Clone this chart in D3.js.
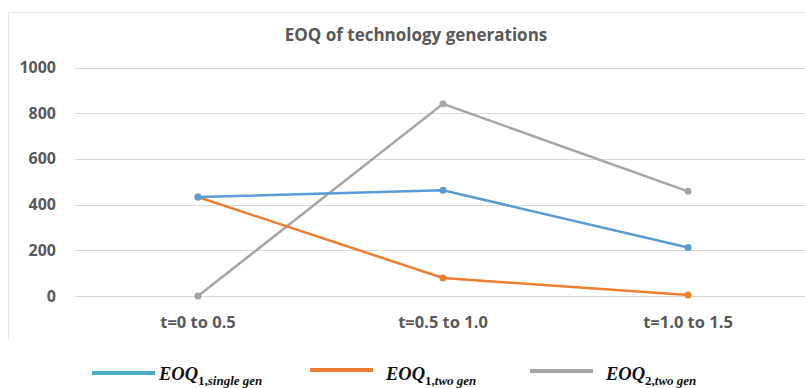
<!DOCTYPE html>
<html>
<head>
<meta charset="utf-8">
<script src="https://cdn.jsdelivr.net/npm/d3@7"></script>
<style>
  body { margin: 0; background: #fff; }
  svg { display: block; }
</style>
</head>
<body>
<div id="canvas"></div>
<script>
var categories = ["t=0 to 0.5", "t=0.5 to 1.0", "t=1.0 to 1.5"]
var singleGen1 = [433, 463, 212]
var twoGen1 = [433, 79, 4]
var twoGen2 = [0, 841, 458]
var yTicks = [0, 200, 400, 600, 800, 1000]

var width = 805
var height = 388

var series = [
    { values: singleGen1, color: "#5B9BD5", legend: "#4BACC6", n: "1", sub: "single gen" },
    { values: twoGen1, color: "#ED7D31", legend: "#ED7D31", n: "1", sub: "two gen" },
    { values: twoGen2, color: "#A5A5A5", legend: "#A5A5A5", n: "2", sub: "two gen" }
]

var svg = d3.select("#canvas")
    .append("svg")
    .attr("width", width)
    .attr("height", height)

// chart frame (cropped on the right)
svg.append("path")
    .attr("d", "M8.5,340 V12.5 H805")
    .attr("fill", "none")
    .attr("stroke", "#e6e6e6")

var xScale = d3.scalePoint().domain(categories).range([198, 688])
var yScale = d3.scaleLinear().domain([0, 1000]).range([296, 67.5])

// gridlines
svg.selectAll(".grid")
    .data(yTicks)
    .enter()
    .append("line")
    .attr("x1", 75)
    .attr("x2", width)
    .attr("y1", function (d) { return Math.round(yScale(d)) + 0.5 })
    .attr("y2", function (d) { return Math.round(yScale(d)) + 0.5 })
    .attr("stroke", "#dadada")
    .attr("stroke-width", 1)

var labelFont = "'Open Sans', sans-serif"

svg.selectAll(".ylab")
    .data(yTicks)
    .enter()
    .append("text")
    .attr("x", 56)
    .attr("y", function (d) { return yScale(d) + 5.5 })
    .attr("text-anchor", "end")
    .attr("font-family", labelFont)
    .attr("font-weight", "bold")
    .attr("font-size", 16)
    .attr("fill", "#595959")
    .text(function (d) { return d })

svg.selectAll(".xlab")
    .data(categories)
    .enter()
    .append("text")
    .attr("x", function (d) { return xScale(d) })
    .attr("y", 328)
    .attr("text-anchor", "middle")
    .attr("font-family", labelFont)
    .attr("font-weight", "bold")
    .attr("font-size", 16.5)
    .attr("fill", "#595959")
    .text(function (d) { return d })

svg.append("text")
    .attr("x", 416)
    .attr("y", 41)
    .attr("text-anchor", "middle")
    .attr("font-family", labelFont)
    .attr("font-weight", "bold")
    .attr("font-size", 17)
    .attr("fill", "#595959")
    .text("EOQ of technology generations")

var line = d3.line()
    .x(function (d, i) { return xScale(categories[i]) })
    .y(function (d) { return yScale(d) })

// gray first so blue/orange sit on top
series.slice().reverse().forEach(function (s) {
    svg.append("path")
        .datum(s.values)
        .attr("d", line)
        .attr("fill", "none")
        .attr("stroke", s.color)
        .attr("stroke-width", 2.5)

    svg.selectAll(null)
        .data(s.values)
        .enter()
        .append("circle")
        .attr("cx", function (d, i) { return xScale(categories[i]) })
        .attr("cy", function (d) { return yScale(d) })
        .attr("r", 3.5)
        .attr("fill", s.color)
})

// legend
var legendX = [92, 310, 530]
var legendY = [373, 370, 371]
var legend = svg.selectAll(".legend")
    .data(series)
    .enter()
    .append("g")
    .attr("transform", function (d, i) { return "translate(" + legendX[i] + ",0)" })

legend.append("line")
    .attr("x1", 0)
    .attr("x2", 63)
    .attr("y1", function (d, i) { return legendY[i] })
    .attr("y2", function (d, i) { return legendY[i] })
    .attr("stroke", function (d) { return d.legend })
    .attr("stroke-width", 4)

var legText = legend.append("text")
    .attr("x", function (d, i) { return i == 0 ? 67 : 76 })
    .attr("y", 380)
    .attr("font-family", "'Liberation Serif', 'DejaVu Serif', serif")
    .attr("font-weight", "bold")
    .attr("font-style", "italic")
    .attr("font-size", 18.5)
    .attr("fill", "#111")

legText.append("tspan").text("EOQ")
legText.append("tspan")
    .attr("dy", 4.5)
    .attr("font-size", 13)
    .attr("font-style", "normal")
    .text(function (d) { return d.n + "," })
legText.append("tspan")
    .attr("font-size", 13)
    .text(function (d) { return d.sub })
</script>
</body>
</html>
